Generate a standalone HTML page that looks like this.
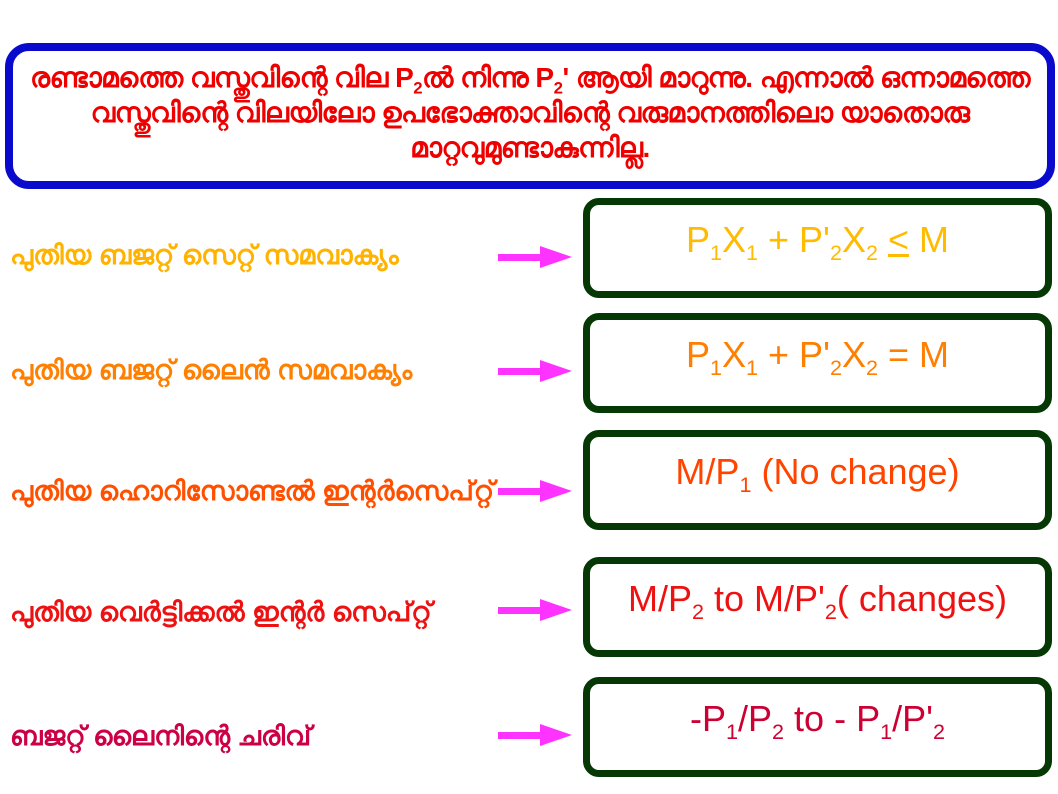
<!DOCTYPE html>
<html><head><meta charset="utf-8"><style>
body{margin:0;width:1058px;height:794px;background:#fff;position:relative;overflow:hidden;font-family:"Liberation Sans","DejaVu Sans",sans-serif}
.top{position:absolute;left:5px;top:43px;width:1034px;height:121px;border:8px solid #0a0acc;border-radius:24px;color:#ee0000;font-weight:bold;font-size:28px;text-align:center;line-height:35px;padding-top:9px;white-space:nowrap;letter-spacing:-0.5px}
.box{position:absolute;left:583px;width:455px;height:86px;border:7px solid #053805;border-radius:16px;text-align:center;font-size:36px;line-height:70px}
.lab{position:absolute;left:10px;font-weight:bold;font-size:27px;white-space:nowrap}
.arr{position:absolute;left:498px;width:44px;height:7px;background:#ff33ff}
.arr:after{content:"";position:absolute;left:42px;top:-8px;border-left:32px solid #ff33ff;border-top:11px solid transparent;border-bottom:11px solid transparent}
sub{font-size:60%;line-height:0}
</style></head><body>
<div class="top">രണ്ടാമത്തെ വസ്തുവിന്റെ വില P<sub>2</sub>ൽ നിന്നു P<sub>2</sub>' ആയി മാറുന്നു. എന്നാൽ ഒന്നാമത്തെ<br>വസ്തുവിന്റെ വിലയിലോ ഉപഭോക്താവിന്റെ വരുമാനത്തിലൊ യാതൊരു<br>മാറ്റവുമുണ്ടാകുന്നില്ല.</div>

<div class="lab" style="top:240px;color:#ffb300">പുതിയ ബജറ്റ് സെറ്റ് സമവാക്യം</div>
<div class="arr" style="top:254px"></div>
<div class="box" style="top:198px;color:#ffbb00">P<sub>1</sub>X<sub>1</sub> + P'<sub>2</sub>X<sub>2</sub> <u>&lt;</u> M</div>

<div class="lab" style="top:355px;color:#ff7f00">പുതിയ ബജറ്റ് ലൈൻ സമവാക്യം</div>
<div class="arr" style="top:368px"></div>
<div class="box" style="top:313px;color:#ff7f00">P<sub>1</sub>X<sub>1</sub> + P'<sub>2</sub>X<sub>2</sub> = M</div>

<div class="lab" style="top:476px;color:#ff5000">പുതിയ ഹൊറിസോണ്ടൽ ഇന്റർസെപ്റ്റ്</div>
<div class="arr" style="top:488px"></div>
<div class="box" style="top:430px;color:#ff4400">M/P<sub>1</sub> (No change)</div>

<div class="lab" style="top:597px;color:#ee1111">പുതിയ വെർട്ടിക്കൽ ഇന്റർ സെപ്റ്റ്</div>
<div class="arr" style="top:607px"></div>
<div class="box" style="top:557px;color:#ee1111">M/P<sub>2</sub> to M/P'<sub>2</sub>( changes)</div>

<div class="lab" style="top:721px;color:#cc0044">ബജറ്റ് ലൈനിന്റെ ചരിവ്</div>
<div class="arr" style="top:732px"></div>
<div class="box" style="top:677px;color:#cc0033">-P<sub>1</sub>/P<sub>2</sub> to - P<sub>1</sub>/P'<sub>2</sub></div>
</body></html>
